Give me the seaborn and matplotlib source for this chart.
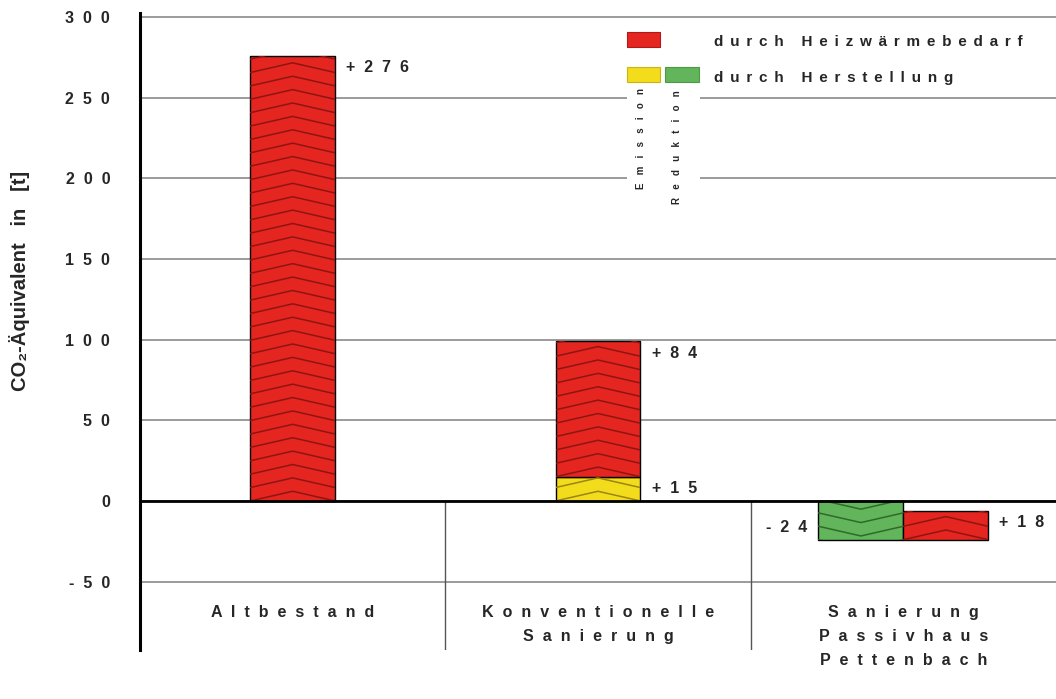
import numpy as np
import matplotlib
matplotlib.use("Agg")
import matplotlib.pyplot as plt
import seaborn as sns
from matplotlib.patches import Rectangle

sns.set_style("white")
plt.rcParams['font.family'] = ['Liberation Sans', 'DejaVu Sans']
plt.rcParams['font.weight'] = 'bold'

# data
categories = ["Altbestand", "Konventionelle\nSanierung", "Sanierung\nPassivhaus\nPettenbach"]
heizwaerme = [276, 84, 18]       # durch Heizwärmebedarf
herstellung = [0, 15, -24]       # durch Herstellung (Emission +, Reduktion -)
y_ticks = [-50, 0, 50, 100, 150, 200, 250, 300]

# colours
RED, RED_LINE = "#e42520", "#8e1512"
YELLOW, YELLOW_LINE = "#f3dc1c", "#9a8612"
GREEN, GREEN_LINE = "#62b55a", "#2f6a2b"


def spaced(s, sep=" "):
    # fake letter spacing
    return "\n".join(sep.join(line) for line in s.split("\n"))


def chevrons(ax, patch, color, step=8.3, depth=6.0):
    x0, y0 = patch.get_x(), patch.get_y()
    w, h = patch.get_width(), patch.get_height()
    lo, hi = min(y0, y0 + h), max(y0, y0 + h)
    sign = 1 if h >= 0 else -1
    xs = [x0, x0 + w / 2, x0 + w]
    y = lo - step
    while y < hi + step:
        ln, = ax.plot(xs, [y, y + sign * depth, y], color=color, lw=1.1,
                      zorder=patch.get_zorder() + 0.1, scalex=False, scaley=False)
        ln.set_clip_path(patch)
        y += step


fig = plt.figure(figsize=(10.56, 6.99), dpi=100)
ax = fig.add_axes([140 / 1056, 49 / 699, 916 / 1056, 637 / 699])

x = np.arange(len(categories))
width = 0.278
heiz_off = [0, 0, 0.5]
herst_off = [0, 0, -0.5]

# Herstellung bars (yellow = emission, green = reduction)
herst_cols = [YELLOW if v > 0 else GREEN for v in herstellung]
herst_bars = ax.bar(x + np.array(herst_off) * width, herstellung, width=width,
                    color=herst_cols, edgecolor="black", linewidth=1, zorder=3)
# Heizwärme bars sit on top of / next to the Herstellung part
heiz_bars = ax.bar(x + np.array(heiz_off) * width, heizwaerme, width=width,
                   bottom=herstellung, color=RED, edgecolor="black",
                   linewidth=1, zorder=3)

for b, v in zip(herst_bars, herstellung):
    if v != 0:
        chevrons(ax, b, YELLOW_LINE if v > 0 else GREEN_LINE)
for b in heiz_bars:
    chevrons(ax, b, RED_LINE)

# value labels
SP2 = "  "
lab_kw = dict(textcoords="offset points", fontsize=11.5, fontweight="bold",
              va="center", zorder=5)
for b, v in zip(heiz_bars, heizwaerme):
    ax.annotate(spaced(f"{v:+d}", SP2), (b.get_x() + b.get_width(), b.get_y() + b.get_height()),
                xytext=(8, -8.5), ha="left", **lab_kw)
for b, v in zip(herst_bars, herstellung):
    if v > 0:
        ax.annotate(spaced(f"{v:+d}", SP2), (b.get_x() + b.get_width(), v),
                    xytext=(8, -8.5), ha="left", **lab_kw)
    elif v < 0:
        ax.annotate(spaced(f"{v:+d}", SP2), (b.get_x(), v),
                    xytext=(-8, 8.5), ha="right", **lab_kw)

# axes
ylo, yhi = -92.4, 302.5
ax.set_xlim(-0.5, 2.5)
ax.set_ylim(ylo, yhi)
ax.set_yticks(y_ticks)
ax.set_yticklabels([spaced(str(t), SP2) for t in y_ticks], fontsize=11.5, fontweight="bold")
ax.set_xticks([])
ax.tick_params(axis="y", length=16, width=1.1, color="#8a8a8a", pad=5.5, direction="out")
ax.grid(axis="y", color="#8a8a8a", lw=1.2, zorder=0)
ax.axhline(0, color="black", lw=2, zorder=4)
for tick, val in zip(ax.yaxis.get_major_ticks(), y_ticks):
    if val == 0:
        tick.tick1line.set_color("black")
        tick.tick1line.set_markeredgewidth(2)
for s in ["top", "right", "bottom"]:
    ax.spines[s].set_visible(False)
ax.spines["left"].set_linewidth(2.2)
ax.spines["left"].set_color("black")
ax.spines["left"].set_zorder(5)

ax.set_ylabel("CO\u2082-Äquivalent   in   [t]", fontsize=14.5, fontweight="bold")
ax.yaxis.set_label_coords(-0.12, 0.579)

# category separators and labels
ax.vlines([0.5, 1.5], ylo, 0, color="#555555", lw=1, zorder=1)
for xi, cat in zip(x, categories):
    ax.text(xi, -64.5, spaced(cat, SP2), ha="center", va="top", fontsize=11.5,
            fontweight="bold", linespacing=1.75)

# legend
tr = ax.transAxes
LEG = " \u2006"
ax.add_patch(Rectangle((0.5317, 0.7143), 0.0797, 0.1742, transform=tr,
                       facecolor="white", edgecolor="none", zorder=2))
ax.add_patch(Rectangle((0.5317, 0.9466), 0.036, 0.0236, transform=tr,
                       facecolor=RED, edgecolor="#b01a16", lw=0.8, zorder=3))
ax.add_patch(Rectangle((0.5317, 0.8917), 0.036, 0.0236, transform=tr,
                       facecolor=YELLOW, edgecolor="#c9b414", lw=0.8, zorder=3))
ax.add_patch(Rectangle((0.5731, 0.8917), 0.0372, 0.0236, transform=tr,
                       facecolor=GREEN, edgecolor="#4c9a46", lw=0.8, zorder=3))
ax.text(0.6266, 0.9537, spaced("durch Heizwärmebedarf", LEG), transform=tr,
        fontsize=11, fontweight="bold", va="center", ha="left", zorder=4)
ax.text(0.6266, 0.8987, spaced("durch Herstellung", LEG), transform=tr,
        fontsize=11, fontweight="bold", va="center", ha="left", zorder=4)
ax.text(0.5469, 0.8823, spaced("Emission", "   "), transform=tr, rotation=90,
        fontsize=7, fontweight="bold", va="top", ha="center", zorder=4)
ax.text(0.5862, 0.8791, spaced("Reduktion", "   "), transform=tr, rotation=90,
        fontsize=7, fontweight="bold", va="top", ha="center", zorder=4)

fig.savefig("out.png", dpi=100)
